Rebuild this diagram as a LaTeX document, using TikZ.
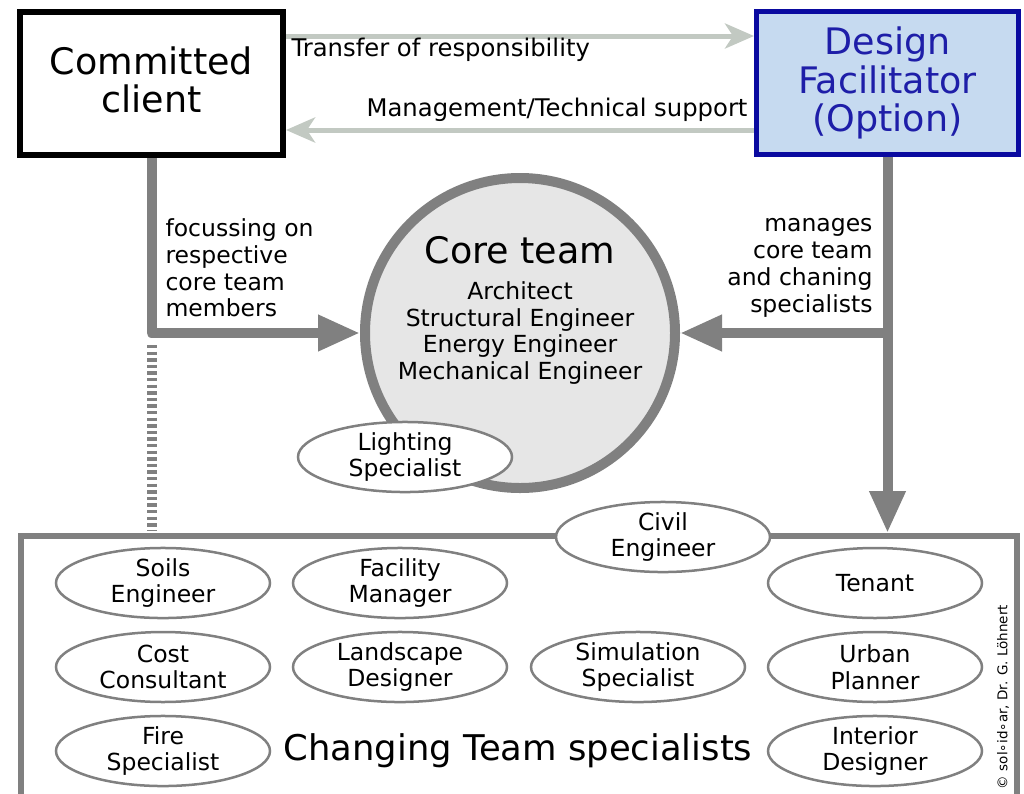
\documentclass[tikz,border=0pt]{standalone}
\usepackage{fontspec}
\setmainfont{DejaVu Sans}
\usetikzlibrary{arrows.meta,shapes.geometric,calc}
\definecolor{cgray}{HTML}{808080}
\definecolor{lgray}{HTML}{C2C9C2}
\definecolor{cfill}{HTML}{E6E6E6}
\definecolor{fblue}{HTML}{C6DAF0}
\definecolor{bblue}{HTML}{0A0AA0}
\definecolor{tblue}{HTML}{1E1EA8}
\begin{document}
\begin{tikzpicture}[x=1pt,y=-1pt,
  bigfont/.style={font=\fontsize{36.5}{38.5}\selectfont},
  midfont/.style={font=\fontsize{23.5}{26.8}\selectfont},
  toplabel/.style={font=\fontsize{24.3}{26}\selectfont},
  conn/.style={draw=cgray,line width=10pt,line join=round},
  bigtip/.style={-{Triangle[length=42pt,width=34pt]}},
  toparrow/.style={draw=lgray,line width=5pt,-{Stealth[length=29pt,width=25pt,inset=8pt]}},
  spec/.style={ellipse,draw=cgray,line width=2.5pt,fill=white,minimum width=214pt,minimum height=70pt,inner sep=0pt,align=center,font=\fontsize{23.5}{26.8}\selectfont}
]
\useasboundingbox (0,0) rectangle (1024,793);
% top boxes
\node[draw=black,line width=6pt,fill=white,minimum width=263pt,minimum height=143pt,bigfont] (client) at (151.5,83.5) {};
\node[bigfont,align=center] (clientt) at (151.5,80) {Committed\\client};
\node[draw=bblue,line width=5pt,fill=fblue,minimum width=262pt,minimum height=143pt,align=center,bigfont,text=tblue] (fac) at (887.5,83) {Design\\Facilitator\\(Option)};
% top arrows
\draw[toparrow] ([yshift=-27pt]client.north east) -- ([yshift=-27pt]fac.north west);
\draw[toparrow] ([yshift=-121pt]fac.north west) -- ([yshift=-121pt]client.north east);
\node[toplabel,anchor=west] (tr) at (288,50) {Transfer of responsibility};
\node[toplabel,anchor=east] (mg) at (751,110) {Management/Technical support};
% bottom box
\node[draw=cgray,line width=6pt,minimum width=996pt,minimum height=300pt,anchor=north west] (box) at (18,533) {};
% core circle
\node[circle,draw=cgray,line width=10pt,fill=cfill,minimum size=310pt,inner sep=0pt] (core) at (520,333) {};
\node[bigfont] (coret) at (520,250) {Core team};
\node[midfont,align=center,anchor=north] (coremem) at (520,278) {Architect\\Structural Engineer\\Energy Engineer\\Mechanical Engineer};
% connectors
\draw[conn,bigtip] (client.south) |- (core.west);
\draw[conn,bigtip] (fac.south) -- (fac.south |- box.north);
\draw[conn,bigtip] (fac.south |- core.east) -- (core.east);
\coordinate (d1) at (152,345);
\coordinate (d2) at (152,531);
\draw[draw=cgray,line width=10pt,dash pattern=on 3.3pt off 3.3pt] (d1) -- (d2);
\node[midfont,align=left,anchor=west] (lfoc) at (162,268) {focussing on\\respective\\core team\\members};
\node[midfont,align=right,anchor=east] (lman) at (876,268) {manages\\core team\\and chaning\\specialists};
% specialists
\node[spec] (light) at (405,457) {Lighting\\Specialist};
\node[spec] (civil) at (663,537) {Civil\\Engineer};
\node[spec] (soils) at (163,583) {Soils\\Engineer};
\node[spec] (facm) at (400,583) {Facility\\Manager};
\node[spec] (tenant) at (875,583) {Tenant};
\node[spec] (cost) at (163,667) {Cost\\Consultant};
\node[spec] (land) at (400,667) {Landscape\\Designer};
\node[spec] (sim) at (638,667) {Simulation\\Specialist};
\node[spec] (urban) at (875,667) {Urban\\Planner};
\node[spec] (fire) at (163,751) {Fire\\Specialist};
\node[spec] (inter) at (875,751) {Interior\\Designer};
\node[font=\fontsize{35.4}{38}\selectfont] (chg) at (518,751) {Changing Team specialists};
\node[font=\fontsize{13.5}{16}\selectfont,rotate=90] (copy) at (1003,697) {© sol∘id∘ar, Dr. G. Löhnert};
\end{tikzpicture}
\end{document}
